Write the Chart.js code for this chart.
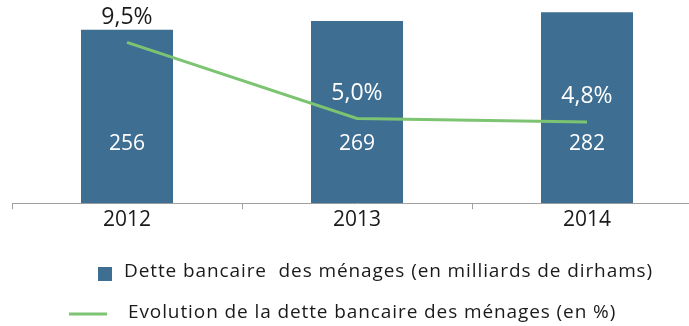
<!DOCTYPE html>
<html>
<head>
<meta charset="utf-8">
<script src="https://cdn.jsdelivr.net/npm/chart.js@4"></script>
<style>
  html, body { margin: 0; padding: 0; background: #fff; overflow: hidden; }
  #wrap { position: relative; width: 704px; height: 326px; }
</style>
</head>
<body>
<div id="wrap"><canvas id="dette-graph"></canvas></div>
<script>
const years = ['2012', '2013', '2014'];
const dette = [256, 269, 282];
const evolution = [9.5, 5.0, 4.8];
const detteLabel = 'Dette bancaire  des ménages (en milliards de dirhams)';
const evolutionLabel = 'Evolution de la dette bancaire des ménages (en %)';

const blue = '#3e6e91';
const green = '#7cc472';
const family = '"Open Sans", "Noto Sans", sans-serif';

// decimal comma
const pct = v => v.toFixed(1).replace('.', ',') + '%';

// amounts inside the bars, percentages above the line points
const valueLabels = {
    id: 'valueLabels',
    afterDatasetsDraw(chart) {
        const ctx = chart.ctx;
        const y = chart.scales.y;
        ctx.save();
        ctx.textAlign = 'center';
        ctx.textBaseline = 'middle';
        ctx.font = '21px ' + family;
        chart.getDatasetMeta(1).data.forEach((bar, i) => {
            ctx.fillStyle = '#ffffff';
            ctx.fillText(dette[i], bar.x, y.getPixelForValue(88));
        });
        ctx.font = '23px ' + family;
        chart.getDatasetMeta(0).data.forEach((pt, i) => {
            ctx.fillStyle = i === 0 ? '#1a1a1a' : '#ffffff';
            ctx.fillText(pct(evolution[i]), pt.x, pt.y - 25);
        });
        ctx.restore();
    }
};

// two-row legend under the axis
const legendRows = {
    id: 'legendRows',
    afterDraw(chart) {
        const ctx = chart.ctx;
        const line = chart.data.datasets[0];
        const bars = chart.data.datasets[1];
        ctx.save();
        ctx.font = '19px ' + family;
        ctx.letterSpacing = '0.9px';
        ctx.textBaseline = 'middle';

        ctx.fillStyle = bars.backgroundColor;
        ctx.fillRect(98, 267, 14, 14);
        ctx.fillStyle = '#1a1a1a';
        ctx.fillText(bars.label, 124, 272);

        ctx.strokeStyle = line.borderColor;
        ctx.lineWidth = 3;
        ctx.beginPath();
        ctx.moveTo(69, 314);
        ctx.lineTo(107, 314);
        ctx.stroke();
        ctx.fillText(line.label, 128, 313);
        ctx.restore();
    }
};

const canvas = document.getElementById('dette-graph');
const dette_graph = new Chart(canvas, {
    type: 'bar',
    data: {
        labels: years,
        datasets: [
            {
                type: 'line',
                label: evolutionLabel,
                data: evolution,
                yAxisID: 'y1',
                borderColor: green,
                borderWidth: 3,
                pointRadius: 0,
                tension: 0,
                order: 0,
            },
            {
                label: detteLabel,
                data: dette,
                yAxisID: 'y',
                backgroundColor: blue,
                categoryPercentage: 1,
                barPercentage: 0.4,
                order: 1,
            },
        ]
    },
    options: {
        responsive: true,
        maintainAspectRatio: false,
        animation: false,
        layout: { padding: { left: 12, right: 2, top: 0, bottom: 96 } },
        plugins: {
            legend: { display: false },
            tooltip: { enabled: false },
        },
        scales: {
            x: {
                offset: true,
                grid: { offset: true, drawOnChartArea: false, tickLength: 6, color: '#a0a0a0' },
                border: { color: '#a0a0a0' },
                ticks: { color: '#1a1a1a', padding: 2, font: { size: 21, lineHeight: 0.8, family: family } },
            },
            y: { display: false, min: 0, max: 300 },
            y1: { display: false, min: 0, max: 12 },
        }
    },
    plugins: [valueLabels, legendRows]
});
</script>
</body>
</html>
